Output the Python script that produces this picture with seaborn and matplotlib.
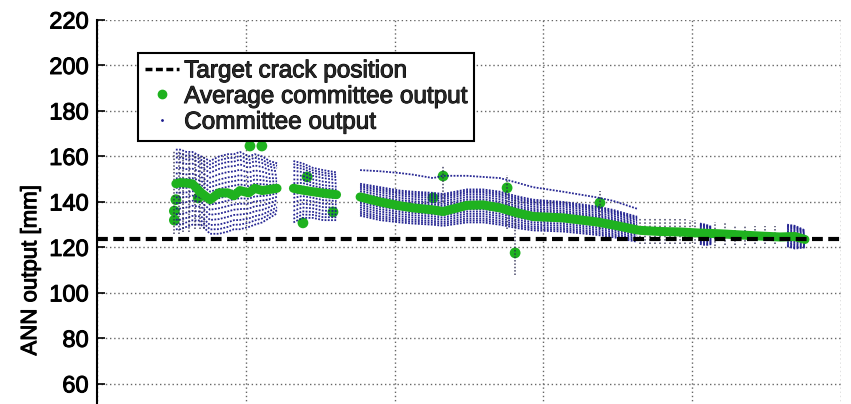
import numpy as np
import pandas as pd
import matplotlib
matplotlib.use("Agg")
import matplotlib.pyplot as plt
import matplotlib.patheffects as pe
from matplotlib.lines import Line2D
import seaborn as sns

# ---- data (position along the beam, arbitrary units 0-250) ----
target_crack = 123.5

# average committee output, four measurement segments
seg_a_x = [26.5, 28, 30, 32, 35, 38, 41, 44, 46, 48, 51, 53, 55.5, 58, 60.5]
seg_a_avg = [148, 148.5, 148.3, 148, 144, 141, 144, 144, 142.7, 145, 144, 146, 145, 145.5, 146]
seg_a_hi = [163, 163, 162, 162, 160, 158, 160, 161, 161, 162, 160, 161, 160, 158, 157]
seg_a_lo = [128, 128, 129, 130, 130, 126, 126, 127, 128, 128, 129, 130, 131, 133, 135]

seg_b_x = [66, 69, 72.5, 76, 80.5]
seg_b_avg = [146, 145.2, 144.5, 143.9, 143.2]
seg_b_hi = [158, 157, 155, 154, 153]
seg_b_lo = [131, 133, 133, 132, 132]

seg_c_x = [88.4, 95.1, 101.8, 106.2, 112.9, 116.3, 124.3, 129.7, 135.4, 141.1,
           146.5, 156.6, 168.0, 173.4, 181.5]
seg_c_avg = [142.2, 140, 138.3, 137.4, 136.5, 135.8, 138.5, 138.7, 137.4, 135.2,
             133.6, 133, 131.2, 129.9, 127.7]
seg_c_hi = [148, 146.5, 145, 144.5, 144, 143.5, 145.5, 145.5, 144.5, 142.5,
            141, 140, 138, 136.5, 133.5]
seg_c_lo = [134, 132, 131, 130.5, 130, 129.5, 131, 131, 130, 128.5,
            127.5, 127, 125.5, 124.5, 122.5]
seg_c_top = [154, 153.5, 152.7, 152, 150.5, 151.5, 151.5, 151, 150.5, 148.5,
             146.5, 144.5, 142, 140.5, 137]

seg_d_x = [182.5, 189.2, 195.9, 202.6, 209.3, 216.1, 222.8, 229.5, 234.5, 237.9]
seg_d_avg = [127.5, 127, 126.8, 126.3, 126, 125.5, 125, 124.6, 124.8, 123.5]

# short dense clusters of committee outputs near the end of the beam
clu_1_x = [202.6, 204.6, 206.6]
clu_1_hi = [130.5, 130, 129]
clu_1_lo = [121.5, 121, 121.5]
clu_2_x = [231.9, 234.5, 237.9]
clu_2_hi = [130, 129.5, 127.5]
clu_2_lo = [120.5, 119.5, 120]

# relative position of each network inside the committee spread
member_pos = [0.0, 0.06, 0.12, 0.19, 0.26, 0.33, 0.4, 0.46, 0.52, 0.58,
              0.64, 0.7, 0.77, 0.84, 0.9, 0.95, 1.0]

# single-point committee spreads (vertical columns of outputs)
col_x = [26, 27.5, 29, 31, 33, 34.5, 36,
         116.3, 137.8, 140.5, 169,
         182.5, 184.2, 185.9, 187.5, 189.2, 190.9, 192.5, 194.2, 195.9, 197.5,
         199.2, 200.9, 207.6, 211, 214.4, 217.7, 221, 224.4, 227.8]
col_lo = [126, 126, 127, 127, 128, 128, 128,
          140, 128, 108, 128,
          121.5, 121.5, 121.5, 121.5, 121.5, 121.5, 121.5, 121.5, 121.5, 121.5,
          121.5, 121.5, 120.5, 121, 121, 121, 121.5, 121.5, 121.5]
col_hi = [163, 163, 162, 162, 161, 160, 160,
          156, 152, 141, 145,
          133, 133, 133, 133, 133, 133, 133, 132.5, 132.5, 132.5,
          132, 132, 131, 131, 130, 130, 129.5, 129.5, 129.5]

# isolated average outputs away from the main trend
out_x = [26, 26, 26.5, 34, 51.4, 55.4, 69.2, 70.6, 79.3, 112.9, 116.3, 137.8, 140.5, 169]
out_y = [136, 132, 141, 141.8, 164.6, 164.6, 130.8, 151, 135.6, 141.8, 151.4, 146.2, 117.6, 139.6]

# ---- long-form tables ----
spreads = [
    ("A", seg_a_x, seg_a_hi, seg_a_lo),
    ("B", seg_b_x, seg_b_hi, seg_b_lo),
    ("C", seg_c_x, seg_c_hi, seg_c_lo),
    ("D1", clu_1_x, clu_1_hi, clu_1_lo),
    ("D2", clu_2_x, clu_2_hi, clu_2_lo),
]
members = []
for name, xs, hi, lo in spreads:
    xs, hi, lo = np.asarray(xs), np.asarray(hi), np.asarray(lo)
    for k, p in enumerate(member_pos):
        members.append(pd.DataFrame({"x": xs, "y": lo + p * (hi - lo),
                                     "unit": f"{name}{k}"}))
members.append(pd.DataFrame({"x": seg_c_x, "y": seg_c_top, "unit": "Ctop"}))
members = pd.concat(members, ignore_index=True)

averages = pd.concat([
    pd.DataFrame({"x": xs, "y": avg, "seg": name})
    for name, xs, avg in [("A", seg_a_x, seg_a_avg), ("B", seg_b_x, seg_b_avg),
                          ("C", seg_c_x, seg_c_avg), ("D", seg_d_x, seg_d_avg)]
], ignore_index=True)

# ---- figure ----
sns.set_theme(style="white")
plt.rcParams["font.family"] = ["Liberation Sans", "DejaVu Sans"]
heavy = [pe.withStroke(linewidth=0.7, foreground="black")]

navy = "#1c1c8e"
green = "#1fb21f"

fig = plt.figure(figsize=(8.51, 4.04), dpi=100)
ax = fig.add_axes([97 / 851, -0.288, 744 / 851, 1.2385])

sns.lineplot(data=members, x="x", y="y", units="unit", estimator=None,
             color=navy, lw=1.3, linestyle=(0, (1, 0.8)), alpha=0.95,
             ax=ax, legend=False)
ax.vlines(col_x, col_lo, col_hi, colors="#2a2a50", linestyles=(0, (1, 1.2)),
          lw=1.1, alpha=0.85)
sns.lineplot(data=averages, x="x", y="y", units="seg", estimator=None,
             color=green, lw=6.5, ax=ax, legend=False, solid_capstyle="round")
sns.scatterplot(x=out_x, y=out_y, color=green, s=60, edgecolor="none", ax=ax)

ax.axhline(target_crack, color="black", lw=3, linestyle=(0, (2.6, 1.3)))

ax.set_xlim(0, 250)
ax.set_ylim(0, 220)
ax.set_xticks([0, 50, 100, 150, 200, 250])
ax.set_yticks(range(60, 221, 20))
ax.set_xticklabels([])
ax.grid(True, color="#666666", linestyle=(0, (1, 2)), lw=1.0)
for side in ("top", "right", "bottom"):
    ax.spines[side].set_visible(False)
ax.spines["left"].set_color("black")
ax.spines["left"].set_linewidth(1.5)
ax.tick_params(axis="y", direction="in", length=6, width=1.2, left=True,
               labelsize=17, pad=6, colors="black")
for t in ax.get_yticklabels():
    t.set_path_effects(heavy)
ax.set_xlabel("")
ax.set_ylabel("ANN output [mm]", fontsize=16, color="black", path_effects=heavy)
ax.yaxis.set_label_coords(-0.075, 0.5)

handles = [
    Line2D([], [], color="black", lw=2.5, linestyle=(0, (2, 1))),
    Line2D([], [], color=green, marker="o", markersize=6, lw=0),
    Line2D([], [], color=navy, marker=".", markersize=2, lw=0),
]
labels = ["Target crack position", "Average committee output", "Committee output"]
leg = ax.legend(handles, labels, loc="upper left",
                bbox_to_anchor=(138 / 851, 1 - 53 / 404),
                bbox_transform=fig.transFigure, borderaxespad=0,
                fontsize=17.5, frameon=True, fancybox=False, framealpha=1,
                edgecolor="black", handlelength=1.4, handletextpad=0.2,
                labelspacing=0.15, borderpad=0.3)
leg.get_frame().set_linewidth(1.5)
for t in leg.get_texts():
    t.set_path_effects(heavy)

fig.savefig("out.png", dpi=100)
